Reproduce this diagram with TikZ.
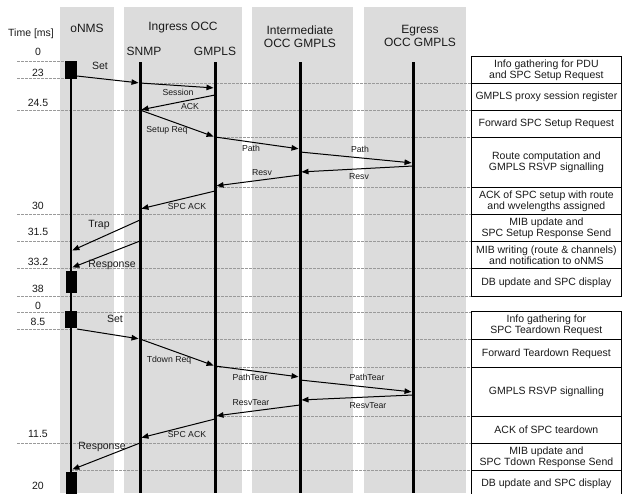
\documentclass[tikz,border=0pt]{standalone}
\usepackage{fontspec}
\setmainfont{Liberation Sans}
\usetikzlibrary{arrows.meta,shadows}
\definecolor{colgray}{HTML}{DCDCDC}
\definecolor{dashgray}{HTML}{9A9A9A}
\definecolor{txt}{HTML}{1A1A1A}
\begin{document}
\begin{tikzpicture}[x=1pt,y=-1pt,
  col/.style={fill=colgray,draw=none},
  life/.style={line width=3pt,black},
  msg/.style={line width=1pt,-{Triangle[length=7pt,width=5.5pt]},shorten >=1.5pt},
  gridline/.style={draw=dashgray,line width=0.6pt,dash pattern=on 2.5pt off 1.5pt},
  hdr/.style={font=\fontsize{12}{13}\selectfont,inner sep=0pt,text=txt},
  tlab/.style={font=\fontsize{10.5}{12}\selectfont,inner sep=0pt,text=txt},
  mlab/.style={font=\fontsize{8.7}{10}\selectfont,inner sep=0pt,text=txt},
  olab/.style={font=\fontsize{10.5}{12}\selectfont,inner sep=0pt,text=txt},
  rowbox/.style={draw=black,fill=white,line width=0.8pt,minimum width=150pt,anchor=north west,
     drop shadow={shadow xshift=1pt,shadow yshift=-1pt,fill=black,opacity=0.9},
     align=center,font=\fontsize{10.5}{10.8}\selectfont,inner sep=0pt,text=txt},
  act/.style={fill=black,draw=none}]
\useasboundingbox (0,0) rectangle (623,493);
% columns
\fill[col] (60,7) rectangle (114,493);
\fill[col] (124,7) rectangle (242,493);
\fill[col] (252,7) rectangle (353,493);
\fill[col] (364,7) rectangle (466,493);
% headers
\node[hdr] (hON) at (87,28) {oNMS};
\node[hdr] (hIN) at (183,28) {Ingress OCC};
\node[hdr] (hSN) at (144,51) {SNMP};
\node[hdr] (hGM) at (215,51) {GMPLS};
\node[hdr,align=center] (hIM) at (300,37) {Intermediate\\OCC GMPLS};
\node[hdr,align=center] (hEG) at (420,36) {Egress\\OCC GMPLS};
% time labels
\node[tlab] (tT) at (31,34) {Time [ms]};
\node[tlab] (t0) at (38,52) {0};
\node[tlab] (t1) at (38,73) {23};
\node[tlab] (t2) at (38,103) {24.5};
\node[tlab] (t3) at (38,206) {30};
\node[tlab] (t4) at (38,232) {31.5};
\node[tlab] (t5) at (38,262) {33.2};
\node[tlab] (t6) at (38,289) {38};
\node[tlab] (t7) at (38,306) {0};
\node[tlab] (t8) at (38,322) {8.5};
\node[tlab] (t9) at (38,434) {11.5};
\node[tlab] (t10) at (38,486) {20};
% dashed time lines
\draw[gridline] (17,61) -- (71,61);
\draw[gridline] (17,78) -- (71,78);
\draw[gridline] (140,83) -- (471,83);
\draw[gridline] (17,110) -- (471,110);
\draw[gridline] (215,137) -- (471,137);
\draw[gridline] (215,187) -- (471,187);
\draw[gridline] (17,214) -- (471,214);
\draw[gridline] (17,241) -- (471,241);
\draw[gridline] (17,268) -- (471,268);
\draw[gridline] (17,296) -- (471,296);
\draw[gridline] (17,312) -- (471,312);
\draw[gridline] (17,329) -- (71,329);
\draw[gridline] (140,339) -- (471,339);
\draw[gridline] (215,367) -- (471,367);
\draw[gridline] (215,416) -- (471,416);
\draw[gridline] (17,443) -- (471,443);
\draw[gridline] (71,470) -- (471,470);
% lifelines
\coordinate (onT) at (71,62); \coordinate (onB) at (71,493);
\coordinate (snT) at (140,62); \coordinate (snB) at (140,493);
\coordinate (gmT) at (215,62); \coordinate (gmB) at (215,493);
\coordinate (imT) at (300,62); \coordinate (imB) at (300,493);
\coordinate (egT) at (413,62); \coordinate (egB) at (413,493);
\draw[life,line width=2.5pt] (onT) -- (onB);
\draw[life] (snT) -- (snB);
\draw[life] (gmT) -- (gmB);
\draw[life] (imT) -- (imB);
\draw[life] (egT) -- (egB);
% activity boxes on oNMS
\fill[act] (65,61) rectangle (77,79);
\fill[act] (66,271) rectangle (77,293);
\fill[act] (65,311) rectangle (77,328);
\fill[act] (66,472) rectangle (77,495);
% ---- setup messages
\coordinate (a1) at (77,76);   \coordinate (b1) at (140,83);
\coordinate (a2) at (140,83);  \coordinate (b2) at (215,88);
\coordinate (a3) at (215,95);  \coordinate (b3) at (140,110);
\coordinate (a4) at (140,110); \coordinate (b4) at (215,137);
\coordinate (a5) at (215,137); \coordinate (b5) at (300,149);
\coordinate (a6) at (300,152); \coordinate (b6) at (413,163);
\coordinate (a7) at (413,166); \coordinate (b7) at (300,172);
\coordinate (a8) at (300,175); \coordinate (b8) at (215,186);
\coordinate (a9) at (215,191); \coordinate (b9) at (140,209);
\coordinate (a10) at (140,220); \coordinate (b10) at (71,251);
\coordinate (a11) at (140,241); \coordinate (b11) at (71,268);
\draw[msg] (a1) -- (b1);
\draw[msg] (a2) -- (b2);
\draw[msg] (a3) -- (b3);
\draw[msg] (a4) -- (b4);
\draw[msg] (a5) -- (b5);
\draw[msg] (a6) -- (b6);
\draw[msg] (a7) -- (b7);
\draw[msg] (a8) -- (b8);
\draw[msg] (a9) -- (b9);
\draw[msg] (a10) -- (b10);
\draw[msg] (a11) -- (b11);
\node[olab] (l1) at (100,66) {Set};
\node[mlab] (l2) at (178,92) {Session};
\node[mlab] (l3) at (190,107) {ACK};
\node[mlab] (l4) at (167,130) {Setup Req};
\node[mlab] (l5) at (251,148) {Path};
\node[mlab] (l6) at (360,149) {Path};
\node[mlab] (l7) at (359,177) {Resv};
\node[mlab] (l8) at (262,173) {Resv};
\node[mlab] (l9) at (187,206) {SPC ACK};
\node[olab] (l10) at (99,225) {Trap};
\node[olab] (l11) at (112,265) {Response};
% ---- teardown messages
\coordinate (a12) at (77,329);  \coordinate (b12) at (140,339);
\coordinate (a13) at (140,339); \coordinate (b13) at (215,366);
\coordinate (a14) at (215,366); \coordinate (b14) at (300,377);
\coordinate (a15) at (300,380); \coordinate (b15) at (413,392);
\coordinate (a16) at (413,395); \coordinate (b16) at (300,400);
\coordinate (a17) at (300,405); \coordinate (b17) at (215,416);
\coordinate (a18) at (215,419); \coordinate (b18) at (140,438);
\coordinate (a19) at (140,443); \coordinate (b19) at (71,470);
\draw[msg] (a12) -- (b12);
\draw[msg] (a13) -- (b13);
\draw[msg] (a14) -- (b14);
\draw[msg] (a15) -- (b15);
\draw[msg] (a16) -- (b16);
\draw[msg] (a17) -- (b17);
\draw[msg] (a18) -- (b18);
\draw[msg] (a19) -- (b19);
\node[olab] (l12) at (115,319) {Set};
\node[mlab] (l13) at (169,360) {Tdown Req};
\node[mlab] (l14) at (250,377) {PathTear};
\node[mlab] (l15) at (367,377) {PathTear};
\node[mlab] (l16) at (368,406) {ResvTear};
\node[mlab] (l17) at (251,403) {ResvTear};
\node[mlab] (l18) at (187,434) {SPC ACK};
\node[olab] (l19) at (102,447) {Response};
% ---- right table
\node[rowbox,minimum height=27pt] (r1) at (471,56) {Info gathering for PDU\\and SPC Setup Request};
\node[rowbox,minimum height=27pt] (r2) at (471,83) {GMPLS proxy session register};
\node[rowbox,minimum height=27pt] (r3) at (471,110) {Forward SPC Setup Request};
\node[rowbox,minimum height=50pt] (r4) at (471,137) {Route computation and\\GMPLS RSVP signalling};
\node[rowbox,minimum height=27pt] (r5) at (471,187) {ACK of SPC setup with route\\and wvelengths assigned};
\node[rowbox,minimum height=27pt] (r6) at (471,214) {MIB update and\\SPC Setup Response Send};
\node[rowbox,minimum height=27pt] (r7) at (471,241) {MIB writing (route \& channels)\\and notification to oNMS};
\node[rowbox,minimum height=28pt] (r8) at (471,268) {DB update and SPC display};
\node[rowbox,minimum height=28pt] (r9) at (471,311) {Info gathering for\\SPC Teardown Request};
\node[rowbox,minimum height=28pt] (r10) at (471,339) {Forward Teardown Request};
\node[rowbox,minimum height=49pt] (r11) at (471,367) {GMPLS RSVP signalling};
\node[rowbox,minimum height=27pt] (r12) at (471,416) {ACK of SPC teardown};
\node[rowbox,minimum height=27pt] (r13) at (471,443) {MIB update and\\SPC Tdown Response Send};
\node[rowbox,minimum height=27pt] (r14) at (471,470) {DB update and SPC display};
\end{tikzpicture}
\end{document}
